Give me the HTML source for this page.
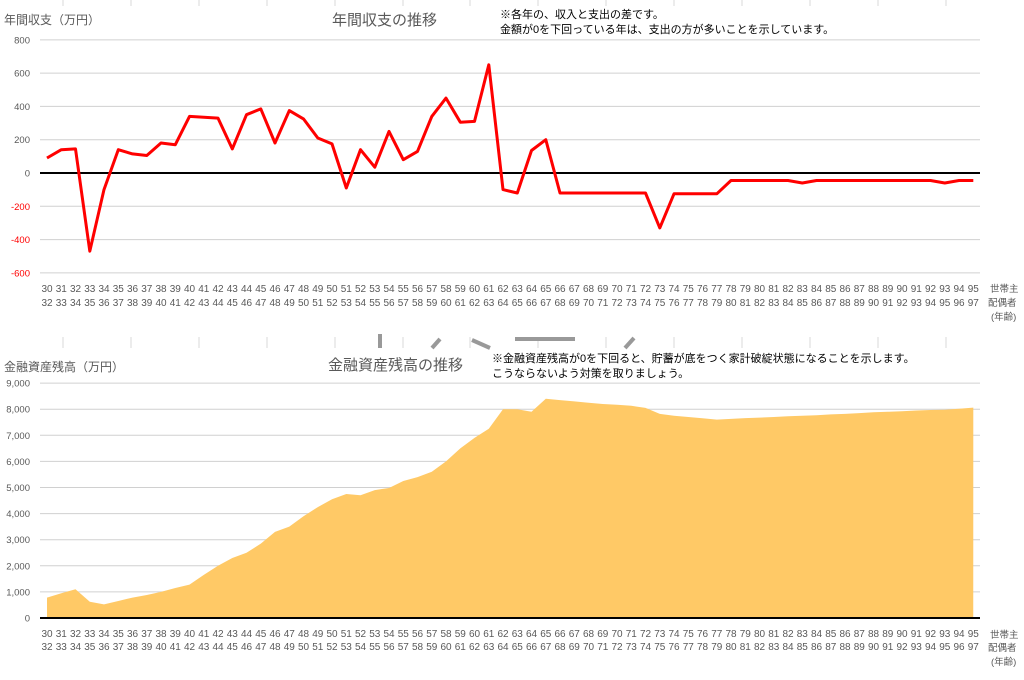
<!DOCTYPE html>
<html><head><meta charset="utf-8"><style>
html,body{margin:0;padding:0;background:#fff;width:1024px;height:680px;overflow:hidden}
svg text{font-family:"Liberation Sans","Noto Sans CJK JP",sans-serif}
</style></head><body>
<svg id="s" width="1024" height="680" xmlns="http://www.w3.org/2000/svg">
<g stroke="#d9d9d9" stroke-width="1">
<line x1="63" y1="0" x2="63" y2="6"/><line x1="131" y1="0" x2="131" y2="6"/><line x1="199" y1="0" x2="199" y2="6"/><line x1="267" y1="0" x2="267" y2="6"/><line x1="335" y1="0" x2="335" y2="6"/><line x1="403" y1="0" x2="403" y2="6"/><line x1="470" y1="0" x2="470" y2="6"/><line x1="538" y1="0" x2="538" y2="6"/><line x1="606" y1="0" x2="606" y2="6"/><line x1="674" y1="0" x2="674" y2="6"/><line x1="742" y1="0" x2="742" y2="6"/><line x1="810" y1="0" x2="810" y2="6"/><line x1="878" y1="0" x2="878" y2="6"/><line x1="946" y1="0" x2="946" y2="6"/>
<line x1="63" y1="337" x2="63" y2="348"/><line x1="131" y1="337" x2="131" y2="348"/><line x1="199" y1="337" x2="199" y2="348"/><line x1="267" y1="337" x2="267" y2="348"/><line x1="335" y1="337" x2="335" y2="348"/><line x1="403" y1="337" x2="403" y2="348"/><line x1="470" y1="337" x2="470" y2="348"/><line x1="538" y1="337" x2="538" y2="348"/><line x1="606" y1="337" x2="606" y2="348"/><line x1="674" y1="337" x2="674" y2="348"/><line x1="742" y1="337" x2="742" y2="348"/><line x1="810" y1="337" x2="810" y2="348"/><line x1="878" y1="337" x2="878" y2="348"/><line x1="946" y1="337" x2="946" y2="348"/>
</g>
<g stroke="#999" stroke-width="4" fill="none">
<line x1="380" y1="334" x2="380" y2="348"/><line x1="432" y1="348" x2="440" y2="339"/><line x1="472" y1="340" x2="490" y2="348"/><line x1="515" y1="339" x2="575" y2="339"/><line x1="625" y1="348" x2="634" y2="338"/>
</g>
<text x="4" y="24" font-size="12" fill="#595959">年間収支（万円）</text>
<text x="332" y="25" font-size="15" fill="#595959">年間収支の推移</text>
<text x="500" y="18" font-size="11" fill="#000">※各年の、収入と支出の差です。</text>
<text x="500" y="33" font-size="11" fill="#000">金額が0を下回っている年は、支出の方が多いことを示しています。</text>
<text x="4" y="371" font-size="12" fill="#595959">金融資産残高（万円）</text>
<text x="328" y="370" font-size="15" fill="#595959">金融資産残高の推移</text>
<text x="492" y="362" font-size="11" fill="#000">※金融資産残高が0を下回ると、貯蓄が底をつく家計破綻状態になることを示します。</text>
<text x="492" y="377" font-size="11" fill="#000">こうならないよう対策を取りましょう。</text>
<g font-size="9.5" fill="#595959">
<text x="990" y="292">世帯主</text><text x="988" y="306">配偶者</text><text x="991" y="320">(年齢)</text>
<text x="990" y="638">世帯主</text><text x="988" y="651">配偶者</text><text x="991" y="665">(年齢)</text>
</g>
<g id="g"></g>
</svg>
<script>
(function(){
var NS="http://www.w3.org/2000/svg",g=document.getElementById('g');
function el(t,a,txt){var e=document.createElementNS(NS,t);for(var k in a)e.setAttribute(k,a[k]);if(txt!=null)e.textContent=txt;g.appendChild(e);return e;}
var X0=47,DX=14.25;function X(i){return X0+i*DX;}
function YT(v){return 173-v*0.16643;}
for(var v=-600;v<=800;v+=200){if(v!=0)el('line',{x1:40,x2:980,y1:YT(v),y2:YT(v),stroke:'#d0d0d0','stroke-width':1});
el('text',{x:30,y:YT(v)+3.5,'font-size':9.5,'text-anchor':'end',fill:v<0?'#ff0000':'#595959'},String(v));}
var dTop=[90,140,145,-470,-100,140,115,105,180,170,340,335,330,145,350,385,180,375,325,210,175,-90,140,35,250,80,130,340,450,305,310,650,-100,-120,135,200,-120,-120,-120,-120,-120,-120,-120,-330,-125,-125,-125,-125,-45,-45,-45,-45,-45,-60,-45,-45,-45,-45,-45,-45,-45,-45,-45,-60,-45,-45];
var p=dTop.map(function(v,i){return X(i).toFixed(1)+','+YT(v).toFixed(1)}).join(' ');
el('line',{x1:40,x2:980,y1:173,y2:173,stroke:'#000','stroke-width':2});
el('polyline',{points:p,fill:'none',stroke:'#ff0000','stroke-width':3,'stroke-linejoin':'round'});
function YB(v){return 618-v*26.1;}
for(var k=1;k<=9;k++)el('line',{x1:40,x2:980,y1:YB(k),y2:YB(k),stroke:'#d0d0d0','stroke-width':1});
var dBot=[0.78,0.95,1.1,0.62,0.52,0.65,0.78,0.88,1.0,1.15,1.28,1.65,2.0,2.3,2.5,2.85,3.3,3.5,3.9,4.25,4.55,4.75,4.7,4.9,4.98,5.25,5.4,5.6,6.0,6.5,6.9,7.25,8.0,8.0,7.9,8.4,8.35,8.3,8.25,8.2,8.17,8.13,8.05,7.82,7.75,7.7,7.65,7.6,7.63,7.66,7.68,7.7,7.73,7.75,7.77,7.8,7.82,7.85,7.88,7.9,7.92,7.95,7.97,7.98,8.02,8.06];
var q=X(0)+','+YB(0)+' '+dBot.map(function(v,i){return X(i).toFixed(1)+','+YB(v).toFixed(1)}).join(' ')+' '+X(65)+','+YB(0);
el('polygon',{points:q,fill:'#ffc966'});
el('line',{x1:40,x2:980,y1:618,y2:618,stroke:'#000','stroke-width':2});
for(var k=0;k<=9;k++)el('text',{x:30,y:YB(k)+3.5,'font-size':9.5,'text-anchor':'end',fill:'#595959'},k==0?'0':k+',000');
for(var i=0;i<66;i++){
el('text',{x:X(i),y:292,'font-size':10,'text-anchor':'middle',fill:'#595959'},String(30+i));
el('text',{x:X(i),y:306,'font-size':10,'text-anchor':'middle',fill:'#595959'},String(32+i));
el('text',{x:X(i),y:637,'font-size':10,'text-anchor':'middle',fill:'#595959'},String(30+i));
el('text',{x:X(i),y:650,'font-size':10,'text-anchor':'middle',fill:'#595959'},String(32+i));}
})();
</script>
</body></html>
